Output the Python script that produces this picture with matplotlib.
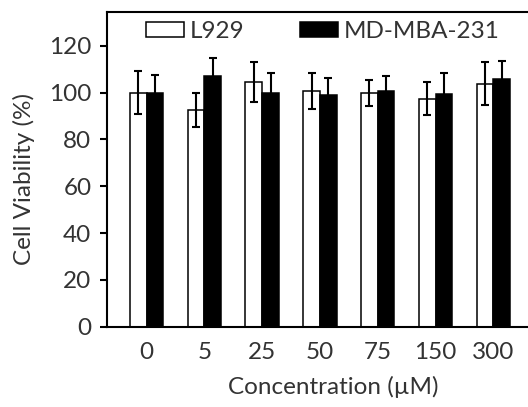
import numpy as np
import matplotlib
matplotlib.use("Agg")
import matplotlib.pyplot as plt

concentrations = ["0", "5", "25", "50", "75", "150", "300"]
l929_mean = [100, 92.7, 104.5, 100.7, 99.8, 97.4, 103.8]
l929_err = [9.2, 7.2, 8.5, 7.7, 5.5, 7.0, 9.3]
mda_mean = [100, 107.2, 100, 98.8, 100.7, 99.5, 105.9]
mda_err = [7.6, 7.5, 8.3, 7.4, 6.2, 8.8, 7.7]

plt.rcParams["font.family"] = ["Lato", "DejaVu Sans"]
text_color = "#333333"
fs = 17.5

fig = plt.figure(figsize=(5.28, 4.07), dpi=100)
ax = fig.add_axes([0.202, 0.197, 0.798, 0.774])

x = np.arange(len(concentrations))
width = 0.29
err_kw = dict(ecolor="black", elinewidth=1.5, capsize=3, capthick=1.5)

ax.bar(x - width / 2, l929_mean, width, yerr=l929_err, color="white",
       edgecolor="black", linewidth=1.1, label="L929", error_kw=err_kw)
ax.bar(x + width / 2, mda_mean, width, yerr=mda_err, color="black",
       edgecolor="black", linewidth=1.1, label="MD-MBA-231", error_kw=err_kw)

ax.set_xlim(-0.69, 6.6)
ax.set_ylim(0, 134.5)
ax.set_yticks([0, 20, 40, 60, 80, 100, 120])
ax.set_xticks(x)
ax.set_xticklabels(concentrations)

for side in ["left", "top", "bottom"]:
    ax.spines[side].set_linewidth(1.5)
ax.spines["right"].set_visible(False)

ax.tick_params(axis="x", length=0, pad=11, labelsize=fs, labelcolor=text_color)
ax.tick_params(axis="y", direction="out", length=5, width=1.5, pad=6,
               labelsize=fs, labelcolor=text_color)

ax.set_ylabel("Cell Viability (%)", fontsize=fs, color=text_color)
ax.set_xlabel("Concentration (\u00b5M)", fontsize=fs, color=text_color)
ax.xaxis.set_label_coords(0.537, -0.155)
ax.yaxis.set_label_coords(-0.17, 0.47)

ax.legend(ncol=2, frameon=False, loc="upper left", bbox_to_anchor=(0.093, 0.97),
          fontsize=fs, handlelength=1.55, handleheight=0.6,
          handletextpad=0.25, columnspacing=2.3, borderpad=0, borderaxespad=0,
          labelcolor=text_color)

fig.savefig("out.png", dpi=100)
